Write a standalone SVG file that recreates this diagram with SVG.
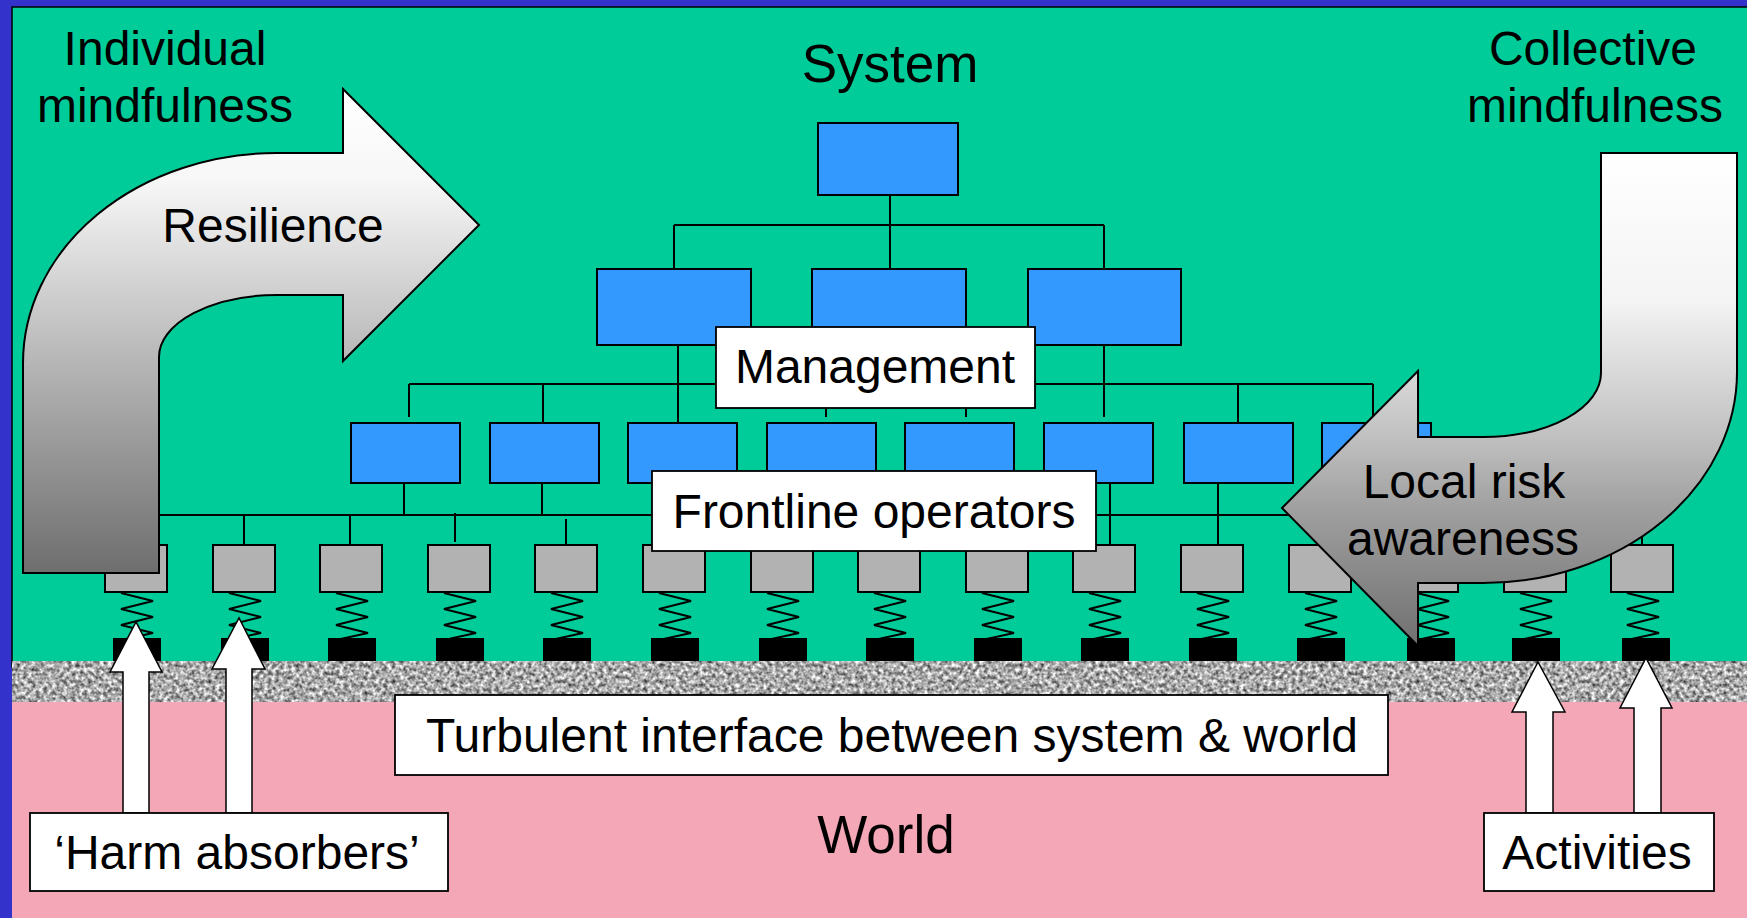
<svg xmlns="http://www.w3.org/2000/svg" xmlns:xlink="http://www.w3.org/1999/xlink" width="1747" height="918" viewBox="0 0 1747 918">
<style>
.t{font-family:"Liberation Sans",Arial,Helvetica,sans-serif;font-size:48px;fill:#000;text-anchor:middle}
.big{font-size:53px}
.ln{stroke:#000;stroke-width:2;fill:none}
.bl{fill:#3399FF;stroke:#000;stroke-width:2}
.gr{fill:#B2B2B2;stroke:#000;stroke-width:2}
.ft{fill:#000}
.sp{fill:none;stroke:#000;stroke-width:2}
.lbl{fill:#fff;stroke:#000;stroke-width:1.8}
.wa{fill:#fff;stroke:#000;stroke-width:1.5}
.ba{stroke:#000;stroke-width:2}
</style>
<defs>
<linearGradient id="gL" gradientUnits="userSpaceOnUse" x1="0" y1="89" x2="0" y2="573">
<stop offset="0" stop-color="#ffffff"/>
<stop offset="0.19" stop-color="#f7f7f7"/>
<stop offset="0.6" stop-color="#b0b0b0"/>
<stop offset="1" stop-color="#6e6e6e"/>
</linearGradient>
<linearGradient id="gR" gradientUnits="userSpaceOnUse" x1="0" y1="153" x2="0" y2="646">
<stop offset="0" stop-color="#ffffff"/>
<stop offset="0.3" stop-color="#f4f4f4"/>
<stop offset="0.577" stop-color="#c0c0c0"/>
<stop offset="0.72" stop-color="#a0a0a0"/>
<stop offset="1" stop-color="#707070"/>
</linearGradient>
<filter id="noise" x="0" y="0" width="1" height="1" color-interpolation-filters="sRGB">
<feTurbulence type="fractalNoise" baseFrequency="0.25" numOctaves="2" seed="7" result="t"/>
<feColorMatrix in="t" type="matrix" values="1.25 0 0 0 0.04  1.25 0 0 0 0.04  1.25 0 0 0 0.04  0 0 0 0 1"/>
</filter>
<polyline id="spring" class="sp" points="-15,593 17,601 -15,609 17,617 -15,625 17,633 -15,640"/>
<rect id="gbox" class="gr" x="-31" y="545" width="62" height="47"/>
<rect id="foot" class="ft" x="-23" y="638" width="48" height="23"/>
</defs>

<g id="background">
<rect x="0" y="0" width="1747" height="918" fill="#3333CC"/>
<rect x="12" y="7" width="1740" height="660" fill="#00CC99" stroke="#000" stroke-width="1.5"/>
<rect x="12" y="700" width="1740" height="222" fill="#F4A7B7"/>
<rect x="12" y="661" width="1735" height="41" filter="url(#noise)"/>
</g>

<g id="title-texts">
<text class="t big" x="890" y="82">System</text>
<text class="t" x="165" y="65">Individual</text>
<text class="t" x="165" y="122">mindfulness</text>
<text class="t" x="1593" y="65">Collective</text>
<text class="t" x="1595" y="122">mindfulness</text>
<text class="t big" x="886" y="853">World</text>
</g>

<g id="connectors">
<path class="ln" d="M890,195 V269 M674,225 H1104 M674,225 V269 M1104,225 V269"/>
<path class="ln" d="M678,345 V423 M889,345 V384 M1104,345 V417"/>
<path class="ln" d="M409,384 H1373 M409,384 V417 M543,384 V423 M826,384 V417 M966,384 V417 M1238,384 V423 M1373,384 V423"/>
<path class="ln" d="M404,483 V515 M542,483 V515 M682,483 V515 M821,483 V515 M960,483 V515 M1110,483 V545 M1218,483 V545 M1376,483 V515"/>
<path class="ln" d="M136,515 H1642 M136,515 V545 M244,515 V545 M350,515 V545 M455,513 V542 M566,519 V548 M674,515 V545 M782,515 V545 M889,515 V545 M997,515 V545 M1320,515 V545 M1427,515 V545 M1535,515 V545 M1642,515 V545"/>
</g>

<g id="system-top"><rect class="bl" x="818" y="123" width="140" height="72"/></g>
<g id="level2">
<rect class="bl" x="597" y="269" width="154" height="76"/>
<rect class="bl" x="812" y="269" width="154" height="76"/>
<rect class="bl" x="1028" y="269" width="153" height="76"/>
</g>
<g id="level3">
<rect class="bl" x="351" y="423" width="109" height="60"/>
<rect class="bl" x="490" y="423" width="109" height="60"/>
<rect class="bl" x="628" y="423" width="109" height="60"/>
<rect class="bl" x="767" y="423" width="109" height="60"/>
<rect class="bl" x="905" y="423" width="109" height="60"/>
<rect class="bl" x="1044" y="423" width="109" height="60"/>
<rect class="bl" x="1184" y="423" width="109" height="60"/>
<rect class="bl" x="1322" y="423" width="109" height="60"/>
</g>

<g id="operators">
<use xlink:href="#gbox" x="136"/><use xlink:href="#gbox" x="244"/><use xlink:href="#gbox" x="351"/><use xlink:href="#gbox" x="459"/><use xlink:href="#gbox" x="566"/><use xlink:href="#gbox" x="674"/><use xlink:href="#gbox" x="782"/><use xlink:href="#gbox" x="889"/><use xlink:href="#gbox" x="997"/><use xlink:href="#gbox" x="1104"/><use xlink:href="#gbox" x="1212"/><use xlink:href="#gbox" x="1320"/><use xlink:href="#gbox" x="1427"/><use xlink:href="#gbox" x="1535"/><use xlink:href="#gbox" x="1642"/>
</g>
<g id="springs">
<use xlink:href="#spring" x="136"/><use xlink:href="#spring" x="244"/><use xlink:href="#spring" x="351"/><use xlink:href="#spring" x="459"/><use xlink:href="#spring" x="566"/><use xlink:href="#spring" x="674"/><use xlink:href="#spring" x="782"/><use xlink:href="#spring" x="889"/><use xlink:href="#spring" x="997"/><use xlink:href="#spring" x="1104"/><use xlink:href="#spring" x="1212"/><use xlink:href="#spring" x="1320"/><use xlink:href="#spring" x="1432"/><use xlink:href="#spring" x="1535"/><use xlink:href="#spring" x="1642"/>
</g>
<g id="feet">
<use xlink:href="#foot" x="136"/><use xlink:href="#foot" x="244"/><use xlink:href="#foot" x="351"/><use xlink:href="#foot" x="459"/><use xlink:href="#foot" x="566"/><use xlink:href="#foot" x="674"/><use xlink:href="#foot" x="782"/><use xlink:href="#foot" x="889"/><use xlink:href="#foot" x="997"/><use xlink:href="#foot" x="1104"/><use xlink:href="#foot" x="1212"/><use xlink:href="#foot" x="1320"/><use xlink:href="#foot" x="1430"/><use xlink:href="#foot" x="1535"/><use xlink:href="#foot" x="1645"/>
</g>

<g id="resilience-arrow">
<path d="M23,573 V363 A254,210 0 0 1 277,153 H343 V89 L479,225 L343,361 V295 H277 A118,62 0 0 0 159,357 V573 Z" fill="url(#gL)" class="ba"/>
<text class="t" x="273" y="242">Resilience</text>
</g>

<g id="local-risk-arrow">
<path d="M1601,153 H1737 V372 A254,211 0 0 1 1483,583 H1418 V646 L1282,508 L1418,371 V437 H1483 A118,64 0 0 0 1601,373 Z" fill="url(#gR)" class="ba"/>
<text class="t" x="1464" y="498">Local risk</text>
<text class="t" x="1463" y="555">awareness</text>
</g>

<g id="management">
<rect class="lbl" x="716" y="327" width="319" height="81"/>
<text class="t" x="875" y="383">Management</text>
</g>
<g id="frontline">
<rect class="lbl" x="652" y="471" width="444" height="80"/>
<text class="t" x="874" y="528">Frontline operators</text>
</g>

<g id="harm-arrows">
<path class="wa" d="M123,813 V672 H110 L136,622 L162,672 H149 V813 Z"/>
<path class="wa" d="M226,813 V669 H212 L239,618 L265,669 H252 V813 Z"/>
</g>
<g id="activity-arrows">
<path class="wa" d="M1526,813 V712 H1512 L1538,662 L1565,712 H1553 V813 Z"/>
<path class="wa" d="M1634,813 V708 H1620 L1646,658 L1672,708 H1661 V813 Z"/>
</g>

<g id="interface">
<rect class="lbl" x="395" y="695" width="993" height="80"/>
<text class="t" x="892" y="752">Turbulent interface between system &amp; world</text>
</g>
<g id="harm-absorbers">
<rect class="lbl" x="30" y="813" width="418" height="78"/>
<text class="t" x="237" y="869">‘Harm absorbers’</text>
</g>
<g id="activities">
<rect class="lbl" x="1484" y="813" width="230" height="78"/>
<text class="t" x="1597" y="869">Activities</text>
</g>
</svg>
